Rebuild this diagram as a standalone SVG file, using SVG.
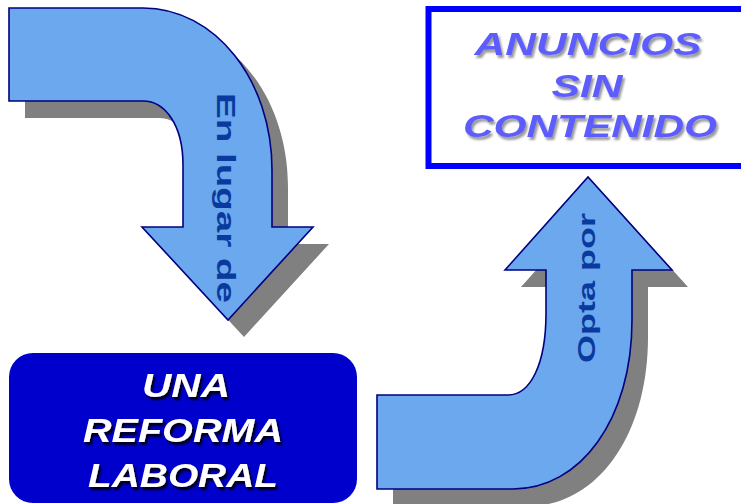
<svg xmlns="http://www.w3.org/2000/svg" width="741" height="504" viewBox="0 0 741 504">
<defs>
<style>
.arrow{fill:#6ba8ed;stroke:#000080;stroke-width:1.6;stroke-linejoin:miter}
.shadow{fill:#808080}
.lbl{font-family:"Liberation Sans",Arial,sans-serif;font-weight:bold;fill:#0a3a9e}
.big{font-family:"Liberation Sans",Arial,sans-serif;font-weight:bold;font-style:italic;text-anchor:middle}
.violet{fill:#5c5cff;font-size:32px}
.white{fill:#ffffff;font-size:33px}
</style>
<filter id="ts1" x="-10%" y="-30%" width="130%" height="170%">
<feGaussianBlur in="SourceAlpha" stdDeviation="1.3" result="b"/>
<feOffset in="b" dx="2" dy="3" result="o"/>
<feFlood flood-color="#808080" flood-opacity="0.8"/>
<feComposite in2="o" operator="in" result="s"/>
<feMerge><feMergeNode in="s"/><feMergeNode in="SourceGraphic"/></feMerge>
</filter>
<filter id="ts2" x="-10%" y="-30%" width="130%" height="170%">
<feGaussianBlur in="SourceAlpha" stdDeviation="1" result="b"/>
<feOffset in="b" dx="2" dy="3" result="o"/>
<feFlood flood-color="#000000" flood-opacity="0.9"/>
<feComposite in2="o" operator="in" result="s"/>
<feMerge><feMergeNode in="s"/><feMergeNode in="SourceGraphic"/></feMerge>
</filter>
<path id="a1" d="M9,8 L143,8 C215,8 272,80 272,170 L272,227 L313,227 L228,320 L142,227 L183,227 L183,165 C183,125 165,101 143,101 L9,101 Z"/>
<path id="a2" d="M377,395 L508,395 C530,395 546,365 546,313 L546,270 L505,270 L588,177 L672,270 L632,270 L632,320 C632,420 580,489 513,489 L377,489 Z"/>
</defs>
<rect width="741" height="504" fill="#ffffff"/>
<g id="connectors">
<g id="arrow-en-lugar-de">
<use href="#a1" class="shadow" transform="translate(16,17)"/>
<use href="#a1" class="arrow"/>
<text class="lbl" font-size="26" transform="translate(217,198) rotate(90)" text-anchor="middle" textLength="210" lengthAdjust="spacingAndGlyphs">En lugar de</text>
</g>
<g id="arrow-opta-por">
<use href="#a2" class="shadow" transform="translate(16,17)"/>
<use href="#a2" class="arrow"/>
<text class="lbl" font-size="24" transform="translate(595,288) rotate(-90)" text-anchor="middle" textLength="150" lengthAdjust="spacingAndGlyphs">Opta por</text>
</g>
</g>
<g id="anuncios">
<rect x="428.5" y="9" width="320" height="157" fill="#ffffff" stroke="#0000ff" stroke-width="6"/>
<g filter="url(#ts1)">
<text class="big violet" x="588" y="55" textLength="227" lengthAdjust="spacingAndGlyphs">ANUNCIOS</text>
<text class="big violet" x="587" y="97" textLength="71" lengthAdjust="spacingAndGlyphs">SIN</text>
<text class="big violet" x="590" y="137" textLength="254" lengthAdjust="spacingAndGlyphs">CONTENIDO</text>
</g>
</g>
<g id="reforma">
<rect x="9" y="353" width="348" height="150" rx="24" fill="#0000cc"/>
<g filter="url(#ts2)">
<text class="big white" x="186" y="397" textLength="88" lengthAdjust="spacingAndGlyphs">UNA</text>
<text class="big white" x="183" y="442" textLength="200" lengthAdjust="spacingAndGlyphs">REFORMA</text>
<text class="big white" x="183" y="487" textLength="190" lengthAdjust="spacingAndGlyphs">LABORAL</text>
</g>
</g>
</svg>
